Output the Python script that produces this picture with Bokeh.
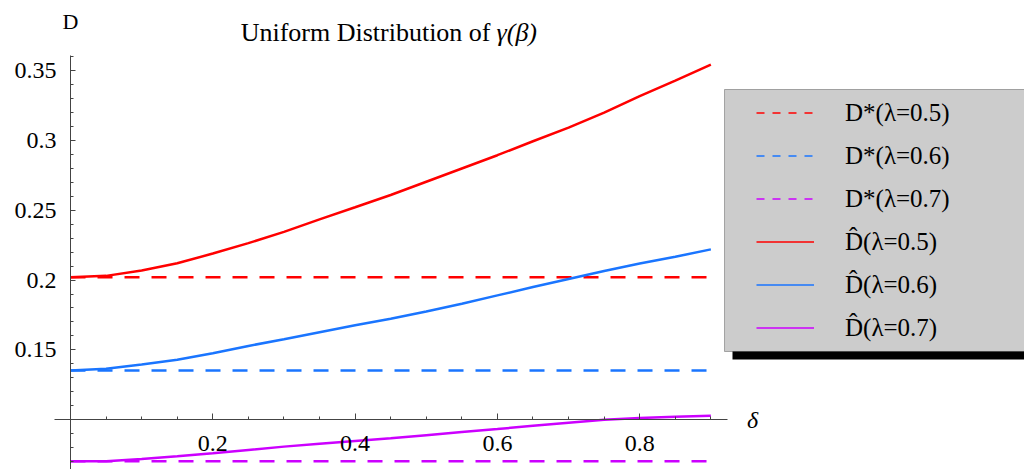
from bokeh.plotting import figure
from bokeh.models import (LinearAxis, FixedTicker, NumeralTickFormatter, Legend, LegendItem,
                          BoxAnnotation, Label, Range1d)
from bokeh.embed import file_html
from bokeh.resources import INLINE

# ---------------- data ----------------
delta = [0.0, 0.05, 0.1, 0.15, 0.2, 0.25, 0.3, 0.35, 0.4, 0.45,
         0.5, 0.55, 0.6, 0.65, 0.7, 0.75, 0.8, 0.85, 0.9]
d_hat_05 = [0.2020, 0.2030, 0.2068, 0.2120, 0.2190, 0.2265, 0.2345, 0.2435, 0.2522, 0.2610,
            0.2705, 0.2800, 0.2895, 0.2995, 0.3093, 0.3200, 0.3318, 0.3430, 0.3545]
d_hat_06 = [0.1351, 0.1365, 0.1395, 0.1428, 0.1475, 0.1528, 0.1575, 0.1626, 0.1676, 0.1722,
            0.1774, 0.1830, 0.1890, 0.1950, 0.2008, 0.2065, 0.2118, 0.2167, 0.2220]
d_hat_07 = [0.0701, 0.0701, 0.0718, 0.0737, 0.0758, 0.0782, 0.0806, 0.0827, 0.0847, 0.0866,
            0.0888, 0.0910, 0.0932, 0.0955, 0.0977, 0.0998, 0.1012, 0.1020, 0.1027]
d_star = [0.2020, 0.1351, 0.0701]
lambdas = ["0.5", "0.6", "0.7"]
colors = ["#ff0000", "#1a75ff", "#cc00ff"]

x_ticks = [0.2, 0.4, 0.6, 0.8]
x_minor = [0.05, 0.1, 0.15, 0.25, 0.3, 0.35, 0.45, 0.5, 0.55, 0.65, 0.7, 0.75, 0.85, 0.9]
y_ticks = [0.15, 0.2, 0.25, 0.3, 0.35]
y_minor = [0.07, 0.08, 0.09, 0.1, 0.11, 0.12, 0.13, 0.14, 0.16, 0.17, 0.18, 0.19,
           0.21, 0.22, 0.23, 0.24, 0.26, 0.27, 0.28, 0.29, 0.31, 0.32, 0.33, 0.34, 0.36]

SERIF = "Liberation Serif"
AX = "#444444"

# ---------------- figure ----------------
p = figure(width=1024, height=469, output_backend="svg", toolbar_location=None,
           x_range=Range1d(-0.0984, 1.3408), y_range=Range1d(0.0642, 0.4004),
           x_axis_location=None, y_axis_location=None, min_border=0,
           outline_line_color=None, background_fill_color="white", border_fill_color="white")
p.xgrid.visible = False
p.ygrid.visible = False

xaxis = LinearAxis(fixed_location=0.1, bounds=(-0.0225, 0.923),
                   ticker=FixedTicker(ticks=x_ticks, minor_ticks=x_minor),
                   formatter=NumeralTickFormatter(format="0.[00]"),
                   axis_line_color=AX, major_tick_line_color=AX, minor_tick_line_color=AX,
                   major_tick_in=6, major_tick_out=0, minor_tick_in=3, minor_tick_out=0,
                   major_label_standoff=16, major_label_text_font=SERIF,
                   major_label_text_font_size="24px", major_label_text_color="black")
p.add_layout(xaxis, "below")

yaxis = LinearAxis(fixed_location=0.0, bounds=(0.05, 0.361),
                   ticker=FixedTicker(ticks=y_ticks, minor_ticks=y_minor),
                   formatter=NumeralTickFormatter(format="0.[00]"),
                   axis_line_color=AX, major_tick_line_color=AX, minor_tick_line_color=AX,
                   major_tick_in=5, major_tick_out=0, minor_tick_in=3, minor_tick_out=0,
                   major_label_standoff=14, major_label_text_font=SERIF,
                   major_label_text_font_size="24px", major_label_text_color="black")
p.add_layout(yaxis, "left")

# ---------------- lines ----------------
for ds, c in zip(d_star, colors):
    p.line(delta, [ds] * len(delta), line_color=c, line_width=2.5, line_dash="15 12")
for vals, c in zip([d_hat_05, d_hat_06, d_hat_07], colors):
    p.line(delta, vals, line_color=c, line_width=2.5)

# legend glyph renderers (thin lines as in the reference legend; a single point draws nothing)
items = []
for ds, lam, c in zip(d_star, lambdas, colors):
    r = p.line(x=[delta[0]], y=[ds], line_color=c, line_width=1.5, line_dash="8 8")
    items.append(LegendItem(label="D*(\u03bb=" + lam + ")", renderers=[r]))
for ds, lam, c in zip(d_star, lambdas, colors):
    r = p.line(x=[delta[0]], y=[ds], line_color=c, line_width=1.5)
    items.append(LegendItem(label="D\u0302(\u03bb=" + lam + ")", renderers=[r]))

# legend frame with drop shadow
shadow = BoxAnnotation(left=0.9304, right=1.45, top=0.3309, bottom=0.1431,
                       fill_color="black", fill_alpha=1.0, line_color=None)
box = BoxAnnotation(left=0.9192, right=1.45, top=0.3366, bottom=0.1488,
                    fill_color="#cccccc", fill_alpha=1.0, line_color="black", line_width=1)
p.add_layout(shadow)
p.add_layout(box)

legend = Legend(items=items, location=(756, 119.6), orientation="vertical",
                glyph_width=58, glyph_height=43, label_height=43, label_standoff=31,
                spacing=0, padding=0, margin=0,
                background_fill_alpha=0, border_line_color=None,
                label_text_font=SERIF, label_text_font_size="25px", label_text_color="black")
p.add_layout(legend, "center")

# ---------------- texts ----------------
p.add_layout(Label(x=0.5903, y=0.3778, text="Uniform Distribution of", text_align="right",
                   text_baseline="middle", text_font=SERIF, text_font_size="26px",
                   text_color="black"))
p.add_layout(Label(x=0.5987, y=0.3778, text="\u03b3(\u03b2)", text_align="left",
                   text_baseline="middle", text_font=SERIF, text_font_size="26px",
                   text_font_style="italic", text_color="black"))
p.add_layout(Label(x=0.0, y=0.3853, text="D", text_align="center", text_baseline="middle",
                   text_font=SERIF, text_font_size="22px", text_color="black"))
p.add_layout(Label(x=0.9585, y=0.1, text="\u03b4", text_align="center", text_baseline="middle",
                   text_font=SERIF, text_font_size="24px", text_font_style="italic",
                   text_color="black"))

open("out.html", "w").write(file_html(p, INLINE))
